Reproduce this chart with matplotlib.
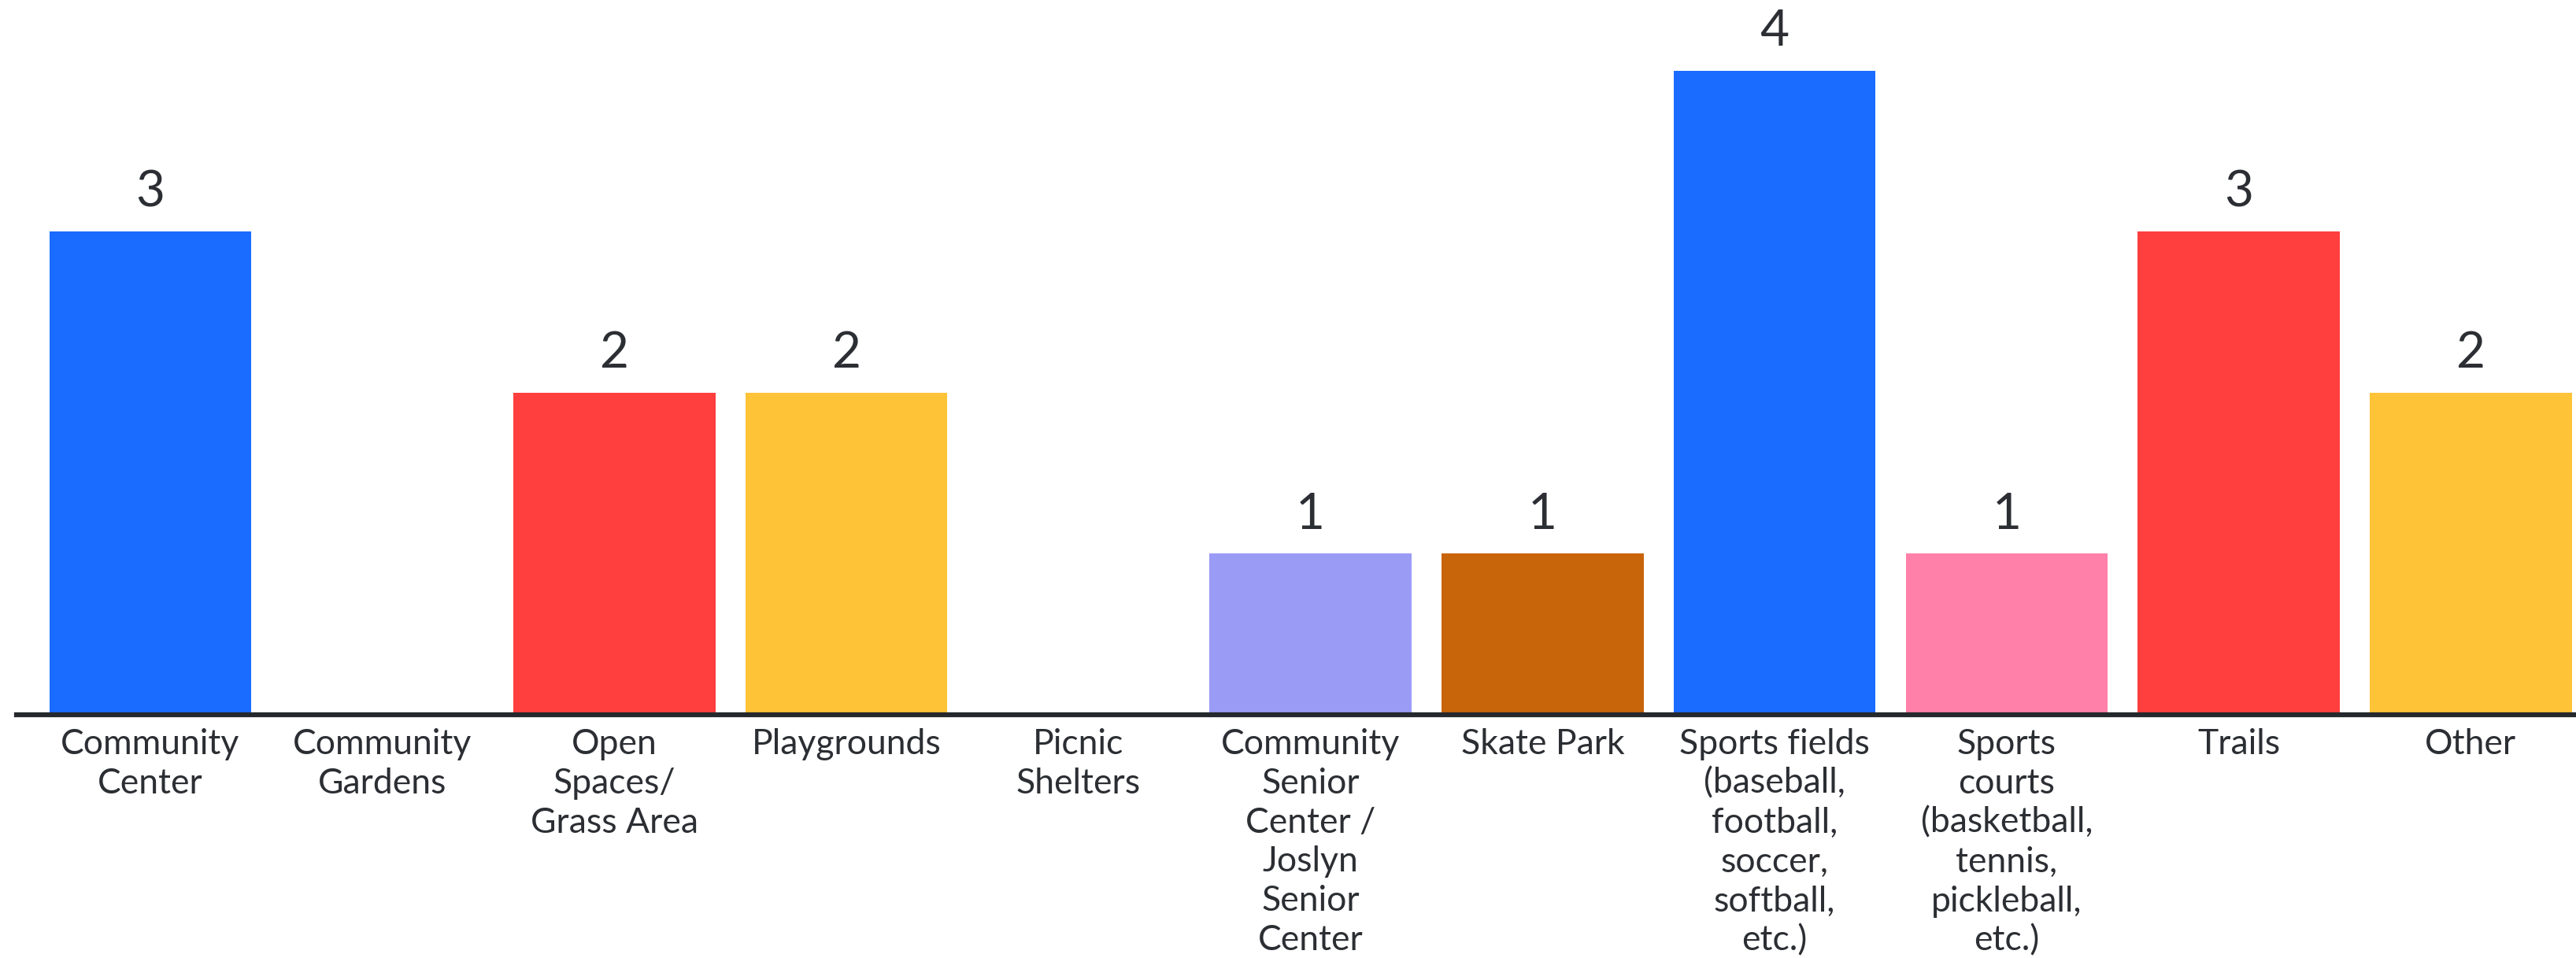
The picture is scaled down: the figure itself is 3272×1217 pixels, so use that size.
import matplotlib
matplotlib.use("Agg")
import matplotlib.pyplot as plt

categories = [
    "Community\nCenter",
    "Community\nGardens",
    "Open\nSpaces/\nGrass Area",
    "Playgrounds",
    "Picnic\nShelters",
    "Community\nSenior\nCenter /\nJoslyn\nSenior\nCenter",
    "Skate Park",
    "Sports fields\n(baseball,\nfootball,\nsoccer,\nsoftball,\netc.)",
    "Sports\ncourts\n(basketball,\ntennis,\npickleball,\netc.)",
    "Trails",
    "Other",
]
values = [3, 0, 2, 2, 0, 1, 1, 4, 1, 3, 2]
colors = ["#1a6bff", "#1a6bff", "#ff3e3e", "#ffc338", "#ffc338", "#9a9bf5",
          "#c8640a", "#1a6bff", "#ff80a9", "#ff3e3e", "#ffc338"]

plt.rcParams['font.family'] = ['Lato', 'DejaVu Sans']

W, H = 3273, 1217
fig = plt.figure(figsize=(W / 100, H / 100), dpi=100)
ax = fig.add_axes([10 / 1568, 1 - 435 / 583, 1 - 10 / 1568, 435 / 583])

x = list(range(len(categories)))
bars = ax.bar(x, values, width=0.87, color=colors)
for xi, v in zip(x, values):
    if v > 0:
        ax.text(xi, v + 0.1, str(v), ha="center", va="bottom",
                fontsize=46, color="#2b2e33")

ax.set_xlim(-0.577, 10.457)
ax.set_ylim(0, 435 / 98)
ax.set_xticks(x)
ax.set_xticklabels(categories, fontsize=32, color="#2b2e33", linespacing=1.27,
                   va="top")
ax.tick_params(axis="x", length=0, pad=12)
ax.set_yticks([])
for s in ["top", "left", "right"]:
    ax.spines[s].set_visible(False)
ax.spines["bottom"].set_linewidth(4.5)
ax.spines["bottom"].set_color("#25282c")
ax.spines["bottom"].set_zorder(5)

fig.savefig("out.png", dpi=100, facecolor="white")
